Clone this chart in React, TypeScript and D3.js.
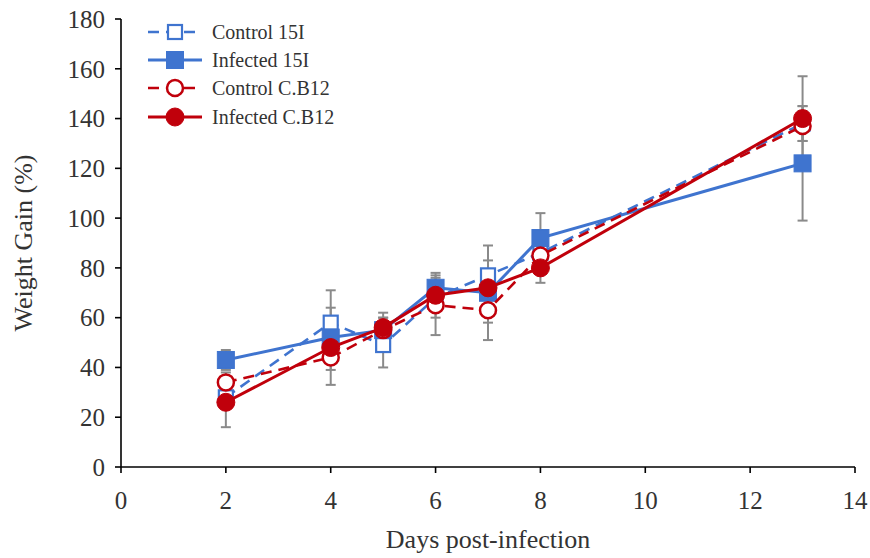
import React from "react";
import * as d3 from "d3";

const days = [2, 4, 5, 6, 7, 8, 13];

const control15I = [28, 58, 49, 68, 77, 86, 138];
const infected15I = [43, 52, 55, 72, 70, 92, 122];
const controlCB12 = [34, 44, 55, 65, 63, 85, 137];
const infectedCB12 = [26, 48, 56, 69, 72, 80, 140];

const errControl15I = [3, 6, 9, 8, 6, 6, 7];
const errInfected15I = [4, 19, 5, 6, 19, 10, 23];
const errControlCB12 = [4, 5, 5, 12, 5, 6, 6];
const errInfectedCB12 = [10, 5, 6, 4, 4, 6, 17];

const xTicks = [0, 2, 4, 6, 8, 10, 12, 14];
const yTicks = [0, 20, 40, 60, 80, 100, 120, 140, 160, 180];

const BLUE = "#3f74cf";
const RED = "#c0000b";
const FONT = "'Liberation Serif', 'DejaVu Serif', serif";

type Series = {
  name: string;
  values: number[];
  errors: number[];
  color: string;
  dashed: boolean;
  marker: "square" | "circle";
  filled: boolean;
};

const series: Series[] = [
  { name: "Control 15I", values: control15I, errors: errControl15I, color: BLUE, dashed: true, marker: "square", filled: false },
  { name: "Infected 15I", values: infected15I, errors: errInfected15I, color: BLUE, dashed: false, marker: "square", filled: true },
  { name: "Control C.B12", values: controlCB12, errors: errControlCB12, color: RED, dashed: true, marker: "circle", filled: false },
  { name: "Infected C.B12", values: infectedCB12, errors: errInfectedCB12, color: RED, dashed: false, marker: "circle", filled: true },
];

function Marker({ s, cx, cy }: { s: Series; cx: number; cy: number }) {
  if (s.marker === "square") {
    const size = s.filled ? 17 : 14;
    return (
      <rect
        x={cx - size / 2}
        y={cy - size / 2}
        width={size}
        height={size}
        fill={s.filled ? s.color : "white"}
        stroke={s.color}
        strokeWidth={s.filled ? 1 : 2.2}
      />
    );
  }
  const r = s.filled ? 9 : 8;
  return (
    <circle
      cx={cx}
      cy={cy}
      r={r}
      fill={s.filled ? s.color : "white"}
      stroke={s.color}
      strokeWidth={s.filled ? 1 : 2.5}
    />
  );
}

export default function App() {
  const width = 870;
  const height = 558;
  const x = d3.scaleLinear().domain([0, 14]).range([121, 855]);
  const y = d3.scaleLinear().domain([0, 180]).range([467, 19]);

  const line = d3
    .line<number>()
    .x((_, i) => x(days[i]))
    .y((d) => y(d));

  const legendRows = [32, 60, 88, 117];

  return (
    <svg
      width={width}
      height={height}
      style={{ position: "absolute", left: 0, top: 0, background: "white" }}
      fontFamily={FONT}
    >
      {/* error bars */}
      {series.map((s) =>
        s.values.map((v, i) => {
          const cx = x(days[i]);
          const e = s.errors[i];
          return (
            <g key={s.name + i} stroke="#8a8a8a" strokeWidth={2}>
              <line x1={cx} x2={cx} y1={y(v + e)} y2={y(v - e)} />
              <line x1={cx - 5} x2={cx + 5} y1={y(v + e)} y2={y(v + e)} />
              <line x1={cx - 5} x2={cx + 5} y1={y(v - e)} y2={y(v - e)} />
            </g>
          );
        })
      )}

      {/* lines and markers */}
      {series.map((s) => (
        <g key={s.name}>
          <path
            d={line(s.values) || ""}
            fill="none"
            stroke={s.color}
            strokeWidth={s.dashed ? 2.6 : 3}
            strokeDasharray={s.dashed ? "11,7" : undefined}
          />
          {s.values.map((v, i) => (
            <Marker key={i} s={s} cx={x(days[i])} cy={y(v)} />
          ))}
        </g>
      ))}

      {/* axes */}
      <g stroke="#000" strokeWidth={1.6}>
        <line x1={x(0)} x2={x(0)} y1={y(0)} y2={y(180)} />
        <line x1={x(0)} x2={x(14)} y1={y(0)} y2={y(0)} />
        {yTicks.map((t) => (
          <line key={"yt" + t} x1={x(0) - 6} x2={x(0)} y1={y(t)} y2={y(t)} />
        ))}
        {xTicks.map((t) => (
          <line key={"xt" + t} x1={x(t)} x2={x(t)} y1={y(0)} y2={y(0) + 6} />
        ))}
      </g>
      {yTicks.map((t) => (
        <text
          key={"yl" + t}
          x={x(0) - 16}
          y={y(t)}
          dy="0.35em"
          textAnchor="end"
          fontSize={25}
          fill="#333"
        >
          {t}
        </text>
      ))}
      {xTicks.map((t) => (
        <text
          key={"xl" + t}
          x={x(t)}
          y={y(0) + 42}
          textAnchor="middle"
          fontSize={25}
          fill="#333"
        >
          {t}
        </text>
      ))}
      <text x={488} y={548} textAnchor="middle" fontSize={26} fill="#333">
        Days post-infection
      </text>
      <text
        transform={`translate(32, ${y(90)}) rotate(-90)`}
        textAnchor="middle"
        fontSize={26}
        fill="#333"
      >
        Weight Gain (%)
      </text>

      {/* legend */}
      {series.map((s, i) => {
        const ly = legendRows[i];
        return (
          <g key={"lg" + s.name}>
            <line
              x1={148}
              x2={202}
              y1={ly}
              y2={ly}
              stroke={s.color}
              strokeWidth={s.dashed ? 2.6 : 3}
              strokeDasharray={s.dashed ? "11,7" : undefined}
            />
            <Marker s={s} cx={175} cy={ly} />
            <text x={212} y={ly} dy="0.35em" fontSize={20} fill="#333">
              {s.name}
            </text>
          </g>
        );
      })}
    </svg>
  );
}
